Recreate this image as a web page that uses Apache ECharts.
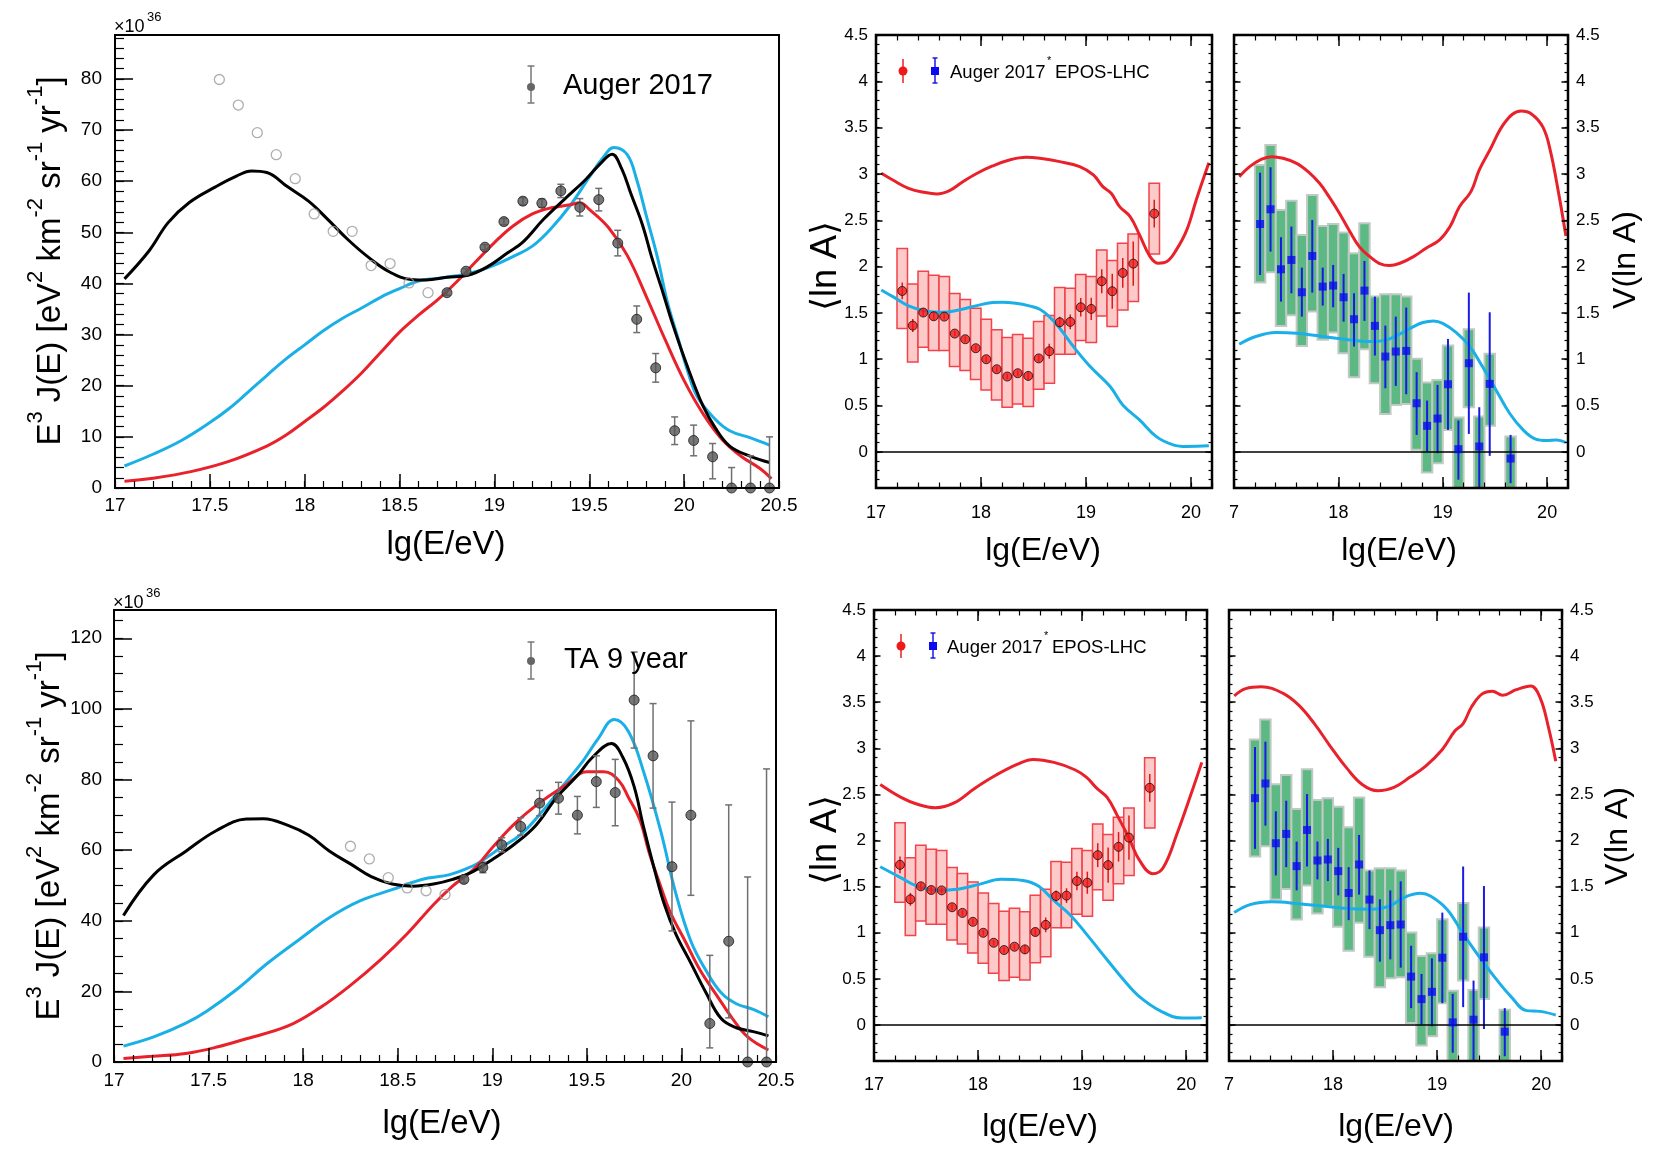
<!DOCTYPE html>
<html><head><meta charset="utf-8">
<script src="https://cdn.jsdelivr.net/npm/echarts@6/dist/echarts.min.js"></script>
<style>html,body{margin:0;padding:0;background:#fff}#c{width:1655px;height:1158px}</style>
</head><body><div id="c"></div>
<script>
// ================= DATA =================
// Auger 2017 spectrum (x 10^36)
const augerOpenX = [17.55,17.65,17.75,17.85,17.95,18.05,18.15,18.25,18.35,18.45,18.55,18.65];
const augerOpenY = [79.9,74.9,69.5,65.2,60.5,53.6,50.2,50.2,43.5,43.9,40.1,38.2];
const augerX = [18.75,18.85,18.95,19.05,19.15,19.25,19.35,19.45,19.55,19.65,19.75,19.85,19.95,20.05,20.15,20.25,20.35,20.45];
const augerY = [38.2,42.4,47.1,52.1,56.1,55.7,58.1,54.9,56.4,47.9,33.0,23.5,11.2,9.3,6.1,0,0,0];
const augerErrLo = [0.5,0.5,0.5,0.6,0.7,0.8,1.3,1.7,2.2,2.5,2.6,2.8,2.7,3.0,4.3,0,0,0];
const augerErrHi = [0.5,0.5,0.5,0.6,0.7,0.8,1.3,1.7,2.2,2.5,2.6,2.8,2.7,3.0,2.6,4.0,6.3,10.0];
const augerBlack = [[17.05,40.9],[17.18,46.4],[17.28,51.9],[17.39,55.8],[17.53,58.9],[17.64,61.0],[17.72,62.0],[17.80,61.7],[17.91,58.9],[18.02,56.1],[18.12,52.6],[18.23,48.5],[18.34,45.0],[18.45,42.2],[18.56,40.8],[18.64,40.7],[18.75,41.2],[18.86,41.6],[18.96,43.2],[19.07,46.0],[19.15,48.1],[19.26,52.6],[19.37,56.5],[19.48,60.3],[19.56,63.5],[19.62,65.3],[19.67,62.5],[19.72,57.5],[19.78,51.5],[19.83,45.0],[19.89,38.0],[19.94,32.0],[20.0,25.5],[20.05,20.5],[20.1,16.0],[20.16,12.0],[20.24,8.2],[20.35,6.2],[20.45,5.0]];
const augerCyan = [[17.05,4.3],[17.2,6.6],[17.35,9.3],[17.5,12.8],[17.6,15.5],[17.7,18.7],[17.8,22.0],[17.9,25.2],[18.0,28.0],[18.1,30.8],[18.2,33.2],[18.3,35.2],[18.4,37.3],[18.5,39.0],[18.6,40.5],[18.7,41.0],[18.8,41.5],[18.9,42.3],[19.0,43.6],[19.1,45.3],[19.2,47.3],[19.3,50.8],[19.4,55.3],[19.5,60.8],[19.57,64.5],[19.63,66.6],[19.70,65.2],[19.75,60.3],[19.80,53.3],[19.86,45.0],[19.91,36.6],[19.97,29.0],[20.02,22.7],[20.07,17.8],[20.16,13.6],[20.24,11.2],[20.35,9.8],[20.45,8.4]];
const augerRed = [[17.05,1.3],[17.2,1.9],[17.4,3.2],[17.6,5.2],[17.8,8.2],[17.9,10.3],[18.0,13.0],[18.1,15.8],[18.2,19.0],[18.3,22.5],[18.4,26.5],[18.5,30.5],[18.6,33.8],[18.7,36.8],[18.8,40.3],[18.9,44.2],[19.0,48.0],[19.1,51.3],[19.2,53.6],[19.3,54.8],[19.4,55.4],[19.45,55.8],[19.5,54.5],[19.6,51.0],[19.7,45.5],[19.8,37.5],[19.9,29.0],[20.0,21.0],[20.1,14.5],[20.2,9.5],[20.3,6.2],[20.4,3.8],[20.46,1.8]];

// TA 9 year spectrum (x 10^36)
const taOpenX = [18.25,18.35,18.45,18.55,18.65,18.75];
const taOpenY = [61.1,57.5,52.2,49.3,48.5,47.4];
const taX = [18.85,18.95,19.05,19.15,19.25,19.35,19.45,19.55,19.65,19.75,19.85,19.95,20.05,20.15,20.25,20.35,20.45];
const taY = [51.7,55.1,61.5,66.7,73.3,74.7,69.9,79.4,76.3,102.5,86.7,55.3,69.9,10.9,34.2,0,0];
const taErrLo = [1.0,1.5,2.0,2.5,3.6,4.5,5.3,7.3,9.4,13.6,14.8,18.2,22.7,6.9,21.7,0,0];
const taErrHi = [1.0,1.5,2.0,2.5,3.6,4.5,5.3,7.3,9.4,13.6,14.8,18.3,26.7,19.3,38.6,52.4,83.0];
const taBlack = [[17.05,41.5],[17.21,53.0],[17.38,59.7],[17.54,65.5],[17.70,68.8],[17.79,68.9],[17.92,67.0],[18.03,64.2],[18.14,59.7],[18.25,56.1],[18.36,52.5],[18.47,50.4],[18.58,49.8],[18.69,50.4],[18.79,51.7],[18.90,54.0],[19.01,57.7],[19.12,61.8],[19.23,67.0],[19.34,74.9],[19.45,81.1],[19.53,86.3],[19.63,90.2],[19.69,86.3],[19.75,78.0],[19.80,66.5],[19.86,54.0],[19.91,44.6],[19.97,36.3],[20.05,28.0],[20.13,19.6],[20.21,12.3],[20.29,9.7],[20.38,8.6],[20.46,7.4]];
const taCyan = [[17.05,4.5],[17.21,7.1],[17.38,11.0],[17.49,14.4],[17.65,20.6],[17.81,27.9],[17.98,34.7],[18.14,40.9],[18.30,45.6],[18.47,48.8],[18.58,50.9],[18.66,52.1],[18.77,53.0],[18.88,55.1],[18.94,56.8],[19.04,60.5],[19.15,64.4],[19.26,70.7],[19.37,78.0],[19.48,85.3],[19.56,91.6],[19.645,97.0],[19.72,93.6],[19.80,82.2],[19.89,65.5],[19.97,47.8],[20.05,34.2],[20.13,25.9],[20.21,19.6],[20.29,16.5],[20.38,14.9],[20.46,12.8]];
const taRed = [[17.05,1.0],[17.2,1.6],[17.38,2.4],[17.55,4.3],[17.70,6.6],[17.92,10.2],[18.09,15.4],[18.25,21.7],[18.41,29.0],[18.55,36.3],[18.69,44.6],[18.79,49.8],[18.90,54.5],[19.01,61.3],[19.12,67.6],[19.26,73.8],[19.39,78.5],[19.50,82.2],[19.59,82.2],[19.67,79.6],[19.72,74.9],[19.78,68.6],[19.83,59.2],[19.89,49.8],[19.94,42.5],[20.02,34.2],[20.10,25.9],[20.19,18.6],[20.27,12.3],[20.35,7.1],[20.46,3.4]];

// Composition data (Auger 2017, EPOS-LHC)
const compX = [17.25,17.35,17.45,17.55,17.65,17.75,17.85,17.95,18.05,18.15,18.25,18.35,18.45,18.55,18.65,18.75,18.85,18.95,19.05,19.15,19.25,19.35,19.45,19.65];
const lnA = [1.737,1.363,1.504,1.464,1.460,1.277,1.216,1.119,1.000,0.892,0.813,0.849,0.820,1.009,1.086,1.399,1.403,1.561,1.543,1.842,1.734,1.932,2.032,2.572];
const lnAStat = [0.09,0.07,0.04,0.04,0.03,0.03,0.03,0.03,0.03,0.03,0.03,0.03,0.05,0.04,0.08,0.06,0.08,0.10,0.12,0.13,0.19,0.16,0.24,0.15];
const lnASysHi = [2.194,1.813,1.950,1.906,1.892,1.709,1.644,1.550,1.432,1.317,1.234,1.266,1.227,1.406,1.471,1.773,1.766,1.914,1.892,2.180,2.065,2.252,2.353,2.899];
const lnASysLo = [1.331,0.971,1.129,1.094,1.094,0.921,0.878,0.781,0.669,0.561,0.482,0.518,0.489,0.676,0.741,1.054,1.054,1.201,1.180,1.468,1.353,1.532,1.622,2.137];
const varLnA = [2.460,2.619,1.971,2.072,1.723,2.115,1.784,1.795,1.669,1.432,1.741,1.360,1.029,1.083,1.090,0.525,0.281,0.360,0.730,0.029,0.957,0.058,0.734,-0.072];
const varStatHi = [3.014,3.072,2.317,2.432,1.989,2.504,1.989,2.018,1.921,1.712,2.061,1.676,1.363,1.460,1.558,0.860,0.554,0.723,1.219,0.338,1.719,0.482,1.507,0.183];
const varStatLo = [1.910,2.162,1.622,1.712,1.460,1.719,1.579,1.561,1.406,1.137,1.414,1.040,0.687,0.712,0.622,0.183,0.004,-0.014,0.237,-0.300,0.194,-0.450,-0.043,-0.338];
const varSysHi = [3.097,3.313,2.612,2.712,2.342,2.773,2.439,2.460,2.367,2.144,2.468,1.676,1.701,1.701,1.676,1.004,0.748,0.777,1.147,0.371,1.324,0.381,1.058,0.165];
const varSysLo = [1.827,1.939,1.360,1.475,1.144,1.514,1.209,1.288,1.065,0.806,1.108,0.741,0.410,0.507,0.518,0.022,-0.223,-0.122,0.237,-0.500,0.482,-0.500,0.281,-0.500];

// Model curves, composition panels
const augLnARed = [[17.05,3.007],[17.16,2.935],[17.31,2.845],[17.47,2.799],[17.58,2.784],[17.70,2.820],[17.82,2.910],[17.95,3.000],[18.11,3.086],[18.27,3.151],[18.43,3.180],[18.56,3.169],[18.75,3.133],[18.94,3.079],[19.07,2.989],[19.16,2.863],[19.24,2.791],[19.32,2.647],[19.42,2.540],[19.51,2.342],[19.61,2.108],[19.69,2.036],[19.77,2.054],[19.86,2.180],[19.96,2.396],[20.05,2.719],[20.17,3.12]];
const augLnACyan = [[17.05,1.748],[17.16,1.676],[17.31,1.576],[17.47,1.522],[17.63,1.507],[17.79,1.532],[17.95,1.576],[18.11,1.612],[18.20,1.615],[18.33,1.604],[18.46,1.576],[18.56,1.540],[18.65,1.460],[18.75,1.335],[18.88,1.137],[19.04,0.921],[19.23,0.705],[19.35,0.507],[19.51,0.345],[19.67,0.165],[19.83,0.076],[19.96,0.058],[20.17,0.065]];
const augVarRed = [[17.05,2.971],[17.15,3.079],[17.26,3.158],[17.36,3.187],[17.47,3.169],[17.60,3.115],[17.71,3.025],[17.82,2.899],[17.91,2.755],[18.01,2.576],[18.11,2.378],[18.20,2.216],[18.30,2.108],[18.39,2.036],[18.49,2.011],[18.59,2.036],[18.72,2.108],[18.84,2.198],[18.97,2.288],[19.07,2.432],[19.16,2.647],[19.27,2.809],[19.35,3.043],[19.45,3.255],[19.60,3.563],[19.75,3.679],[19.85,3.648],[19.96,3.505],[20.03,3.255],[20.11,2.793],[20.18,2.33]];
const augVarCyan = [[17.05,1.162],[17.21,1.245],[17.40,1.288],[17.60,1.281],[17.79,1.255],[17.98,1.227],[18.17,1.201],[18.33,1.191],[18.46,1.209],[18.59,1.273],[18.72,1.353],[18.81,1.396],[18.91,1.414],[19.00,1.388],[19.13,1.288],[19.26,1.137],[19.38,0.921],[19.51,0.669],[19.64,0.417],[19.77,0.237],[19.89,0.137],[19.99,0.122],[20.09,0.129],[20.18,0.101]];
const taLnARed = [[17.06,2.608],[17.26,2.468],[17.41,2.396],[17.59,2.356],[17.77,2.408],[17.97,2.568],[18.17,2.708],[18.38,2.828],[18.53,2.880],[18.73,2.848],[18.93,2.768],[19.04,2.688],[19.14,2.568],[19.24,2.468],[19.34,2.268],[19.45,2.028],[19.55,1.788],[19.68,1.64],[19.78,1.708],[19.91,2.068],[20.06,2.548],[20.15,2.848]];
const taLnACyan = [[17.06,1.716],[17.26,1.596],[17.41,1.508],[17.61,1.46],[17.82,1.476],[18.02,1.528],[18.22,1.58],[18.43,1.568],[18.58,1.508],[18.73,1.348],[18.89,1.188],[19.04,0.988],[19.24,0.708],[19.40,0.488],[19.55,0.308],[19.76,0.148],[19.96,0.076],[20.15,0.08]];
const taVarRed = [[17.05,3.568],[17.16,3.648],[17.31,3.668],[17.52,3.596],[17.67,3.468],[17.82,3.268],[17.97,3.028],[18.13,2.788],[18.28,2.608],[18.43,2.54],[18.59,2.58],[18.74,2.688],[18.89,2.808],[19.05,2.988],[19.17,3.188],[19.25,3.268],[19.33,3.448],[19.43,3.588],[19.53,3.62],[19.63,3.576],[19.76,3.636],[19.90,3.676],[19.99,3.548],[20.07,3.228],[20.14,2.86]];
const taVarCyan = [[17.05,1.22],[17.21,1.308],[17.41,1.336],[17.67,1.316],[17.92,1.288],[18.18,1.26],[18.38,1.256],[18.54,1.288],[18.69,1.388],[18.84,1.428],[18.94,1.396],[19.10,1.248],[19.25,0.988],[19.40,0.748],[19.56,0.508],[19.71,0.308],[19.86,0.156],[19.99,0.148],[20.14,0.108]];

// Tick label values
const specXTicks = [17,17.5,18,18.5,19,19.5,20,20.5];
const augerYTicks = [0,10,20,30,40,50,60,70,80];
const taYTicks = [0,20,40,60,80,100,120];
const compXTicks = [17,18,19,20];
const compYTicks = [0,0.5,1,1.5,2,2.5,3,3.5,4,4.5];

// ================= BUILD =================
const FONT = '"Liberation Sans", Arial, Helvetica, sans-serif';
const RED = '#e8212b', CYAN = '#1aafe6';
function seq(a, b, s) { const o = []; const n = Math.round((b - a) / s); for (let i = 0; i <= n; i++) o.push(+(a + i * s).toFixed(6)); return o; }
const fmt = v => String(+(+v).toFixed(2));

const grids = [], xAxes = [], yAxes = [], series = [], gfx = [];

function tickAxis(kind, gi, pos, min, max, vals, len, lw, lab) {
  const ax = {type: 'value', gridIndex: gi, position: pos, min: min, max: max,
    axisLine: {show: false, onZero: false}, splitLine: {show: false},
    axisTick: {show: true, inside: true, length: len, customValues: vals, lineStyle: {color: '#000', width: lw}},
    axisLabel: {show: false}, axisPointer: {show: false}, silent: true, z: 10};
  if (lab) ax.axisLabel = {show: true, customValues: lab.vals, margin: lab.margin, fontSize: lab.size,
    fontFamily: FONT, color: '#000', formatter: lab.fmt || fmt};
  const arr = kind === 'x' ? xAxes : yAxes;
  arr.push(ax);
  return arr.length - 1;
}

function panel(c) {
  const gi = grids.length;
  grids.push({left: c.box[0], top: c.box[1], width: c.box[2], height: c.box[3], show: true,
    borderColor: '#000', borderWidth: c.frame, backgroundColor: 'rgba(0,0,0,0)', containLabel: false, z: 9});
  const xi = tickAxis('x', gi, 'bottom', c.xr[0], c.xr[1], c.xMajor, c.xLen[0], 1.5, c.xLab);
  tickAxis('x', gi, 'bottom', c.xr[0], c.xr[1], c.xMinor, c.xLen[1], 1.2, null);
  const yi = tickAxis('y', gi, 'left', c.yr[0], c.yr[1], c.yMajor, c.yLen[0], 1.5, c.yLabL);
  tickAxis('y', gi, 'left', c.yr[0], c.yr[1], c.yMinor, c.yLen[1], 1.2, null);
  if (c.all) {
    tickAxis('x', gi, 'top', c.xr[0], c.xr[1], c.xMajor, c.xLen[0], 1.5, null);
    tickAxis('x', gi, 'top', c.xr[0], c.xr[1], c.xMinor, c.xLen[1], 1.2, null);
    tickAxis('y', gi, 'right', c.yr[0], c.yr[1], c.yMajor, c.yLen[0], 1.5, c.yLabR);
    tickAxis('y', gi, 'right', c.yr[0], c.yr[1], c.yMinor, c.yLen[1], 1.2, null);
  }
  return {xi, yi};
}

function lineS(p, data, color, extra) {
  return Object.assign({type: 'line', xAxisIndex: p.xi, yAxisIndex: p.yi, data: data, showSymbol: false, symbol: 'none',
    smooth: 0.4, clip: true, silent: true, z: 3, lineStyle: {color: color, width: 3}}, extra || {});
}
function boxS(p, xs, lo, hi, fill, stroke, lw, half) {
  return {type: 'custom', xAxisIndex: p.xi, yAxisIndex: p.yi, clip: true, silent: true, z: 2,
    data: xs.map((x, i) => [x, lo[i], hi[i]]),
    renderItem: (params, api) => {
      const a = api.coord([api.value(0) - half, api.value(2)]);
      const b = api.coord([api.value(0) + half, api.value(1)]);
      return {type: 'rect', shape: {x: a[0], y: a[1], width: b[0] - a[0], height: b[1] - a[1]},
        style: {fill: fill, stroke: stroke, lineWidth: lw}};
    }};
}
function errS(p, xs, ys, lo, hi, color, lw, cap) {
  return {type: 'custom', xAxisIndex: p.xi, yAxisIndex: p.yi, clip: true, silent: true, z: 4,
    data: xs.map((x, i) => [x, lo[i], hi[i], ys[i]]),
    renderItem: (params, api) => {
      const x = api.value(0);
      const a = api.coord([x, api.value(1)]);
      const b = api.coord([x, api.value(2)]);
      const ch = [{type: 'line', shape: {x1: a[0], y1: a[1], x2: b[0], y2: b[1]}, style: {stroke: color, lineWidth: lw}}];
      if (cap) {
        if (api.value(2) > api.value(3)) ch.push({type: 'line', shape: {x1: b[0] - cap, y1: b[1], x2: b[0] + cap, y2: b[1]}, style: {stroke: color, lineWidth: lw}});
        if (api.value(1) < api.value(3)) ch.push({type: 'line', shape: {x1: a[0] - cap, y1: a[1], x2: a[0] + cap, y2: a[1]}, style: {stroke: color, lineWidth: lw}});
      }
      return {type: 'group', children: ch};
    }};
}
function ptS(p, xs, ys, symbol, size, style) {
  return {type: 'scatter', xAxisIndex: p.xi, yAxisIndex: p.yi, data: xs.map((x, i) => [x, ys[i]]),
    symbol: symbol, symbolSize: size, itemStyle: style, clip: false, silent: true, z: 6};
}
function txt(x, y, text, size, opts, align) {
  gfx.push(Object.assign({type: 'text', x: x, y: y, silent: true, z: 20,
    style: {text: text, fontSize: size, fontFamily: FONT, fill: '#000', align: align || 'center', verticalAlign: 'middle'}}, opts || {}));
}

// ---------- Spectrum panels ----------
const specCommon = {frame: 2, xr: [17, 20.5], xMajor: seq(17, 20.5, 0.5), xMinor: seq(17, 20.5, 0.1), xLen: [14, 7], yLen: [18, 9], all: false};
const pA = panel(Object.assign({}, specCommon, {box: [115, 35, 664, 453], yr: [0, 88.6],
  yMajor: augerYTicks, yMinor: seq(0, 88, 2),
  xLab: {vals: specXTicks, margin: 8, size: 19}, yLabL: {vals: augerYTicks, margin: 13, size: 19}}));
const pD = panel(Object.assign({}, specCommon, {box: [114, 610, 662, 452], yr: [0, 128],
  yMajor: taYTicks, yMinor: seq(0, 125, 5),
  xLab: {vals: specXTicks, margin: 9, size: 19}, yLabL: {vals: taYTicks, margin: 12, size: 19}}));

function specSeries(p, black, cyan, red, ox, oy, X, Y, lo, hi) {
  series.push(lineS(p, cyan, CYAN), lineS(p, red, RED), lineS(p, black, '#000'));
  series.push(errS(p, X, Y, Y.map((y, i) => y - lo[i]), Y.map((y, i) => y + hi[i]), '#707070', 1.5, 3.5));
  series.push(ptS(p, ox, oy, 'circle', 10, {color: 'rgba(255,255,255,0)', borderColor: '#9a9a9a', borderWidth: 1.3}));
  series.push(ptS(p, X, Y, 'circle', 10, {color: '#555555', borderColor: '#1a1a1a', borderWidth: 1}));
}
specSeries(pA, augerBlack, augerCyan, augerRed, augerOpenX, augerOpenY, augerX, augerY, augerErrLo, augerErrHi);
specSeries(pD, taBlack, taCyan, taRed, taOpenX, taOpenY, taX, taY, taErrLo, taErrHi);

// ---------- Composition panels ----------
const compCommon = {frame: 2.5, xr: [17, 20.2], yr: [-0.39, 4.5], xMajor: compXTicks, xMinor: seq(17, 20.2, 0.2),
  yMajor: compYTicks, yMinor: seq(-0.3, 4.5, 0.1), xLen: [11, 5.5], yLen: [6.5, 3.5], all: true};
const xLabB = m => ({vals: compXTicks, margin: m, size: 18});
const xLabC = m => ({vals: compXTicks, margin: m, size: 18, fmt: v => (+v === 17 ? '7' : fmt(v))});
const pB = panel(Object.assign({}, compCommon, {box: [876, 35, 336, 453], xLab: xLabB(16), yLabL: {vals: compYTicks, margin: 8, size: 17}}));
const pC = panel(Object.assign({}, compCommon, {box: [1234, 35, 334, 453], xLab: xLabC(16), yLabR: {vals: compYTicks, margin: 8, size: 17}}));
const pE = panel(Object.assign({}, compCommon, {box: [874, 610, 333, 451], xLab: xLabB(15), yLabL: {vals: compYTicks, margin: 8, size: 17}}));
const pF = panel(Object.assign({}, compCommon, {box: [1229, 610, 333, 451], xLab: xLabC(15), yLabR: {vals: compYTicks, margin: 8, size: 17}}));

const zeroLine = {markLine: {silent: true, symbol: 'none', animation: false, label: {show: false},
  lineStyle: {color: '#000', width: 1.5, type: 'solid'}, data: [{yAxis: 0}]}};

function lnASeries(p, red, cyan) {
  series.push(boxS(p, compX, lnASysLo, lnASysHi, '#fdcaca', '#f2424a', 1.5, 0.05));
  series.push(lineS(p, red, RED, zeroLine), lineS(p, cyan, CYAN));
  series.push(errS(p, compX, lnA, lnA.map((v, i) => v - lnAStat[i]), lnA.map((v, i) => v + lnAStat[i]), '#e01818', 1.5, 0));
  series.push(ptS(p, compX, lnA, 'circle', 9, {color: '#ee1a1a', borderColor: '#111', borderWidth: 1}));
}
function varSeries(p, red, cyan) {
  series.push(boxS(p, compX, varSysLo, varSysHi, '#5cb983', '#c0c9c3', 2, 0.05));
  series.push(lineS(p, red, RED, zeroLine), lineS(p, cyan, CYAN));
  series.push(errS(p, compX, varLnA, varStatLo, varStatHi, '#1a1ae6', 2, 0));
  series.push(ptS(p, compX, varLnA, 'rect', 8, {color: '#0a0af0'}));
}
lnASeries(pB, augLnARed, augLnACyan);
varSeries(pC, augVarRed, augVarCyan);
lnASeries(pE, taLnARed, taLnACyan);
varSeries(pF, taVarRed, taVarCyan);

// ---------- Texts ----------
const ytitleRich = {m: {fontSize: 33, lineHeight: 42, verticalAlign: 'bottom', fontFamily: FONT},
  s: {fontSize: 22, lineHeight: 22, verticalAlign: 'top', fontFamily: FONT}};
const ytitle = '{m|E}{s|3}{m| J(E) [eV}{s|2}{m| km}{s|-2}{m| sr}{s|-1}{m| yr}{s|-1}{m|]}';
txt(46, 261, ytitle, 33, {rotation: Math.PI / 2, style: {text: ytitle, rich: ytitleRich, align: 'center', verticalAlign: 'middle', fill: '#000'}});
txt(45, 836, ytitle, 33, {rotation: Math.PI / 2, style: {text: ytitle, rich: ytitleRich, align: 'center', verticalAlign: 'middle', fill: '#000'}});

// ×10^36 multipliers
txt(114, 27, '×10', 18, null, 'left');
txt(147, 17, '36', 13, null, 'left');
txt(113, 603, '×10', 18, null, 'left');
txt(146, 593, '36', 13, null, 'left');

txt(446, 545, 'lg(E/eV)', 33);
txt(442, 1124, 'lg(E/eV)', 33);
txt(1043, 551, 'lg(E/eV)', 32);
txt(1399, 551, 'lg(E/eV)', 32);
txt(1040, 1127, 'lg(E/eV)', 32);
txt(1396, 1127, 'lg(E/eV)', 32);

const lnAFont = '"Liberation Sans", "DejaVu Sans", sans-serif';
gfx.push({type: 'text', x: 826, y: 266, rotation: Math.PI / 2, silent: true, z: 20, style: {text: '⟨ln A⟩', fontSize: 36, fontFamily: lnAFont, fill: '#000', align: 'center', verticalAlign: 'middle'}});
gfx.push({type: 'text', x: 826, y: 840, rotation: Math.PI / 2, silent: true, z: 20, style: {text: '⟨ln A⟩', fontSize: 36, fontFamily: lnAFont, fill: '#000', align: 'center', verticalAlign: 'middle'}});
txt(1626, 260, 'V(ln A)', 32, {rotation: Math.PI / 2});
txt(1618, 836, 'V(ln A)', 32, {rotation: Math.PI / 2});

// ---------- Legends ----------
function specLegend(x, y, y1, y2, label, tx) {
  gfx.push({type: 'line', silent: true, z: 20, shape: {x1: x, y1: y1, x2: x, y2: y2}, style: {stroke: '#777', lineWidth: 1.5}});
  gfx.push({type: 'line', silent: true, z: 20, shape: {x1: x - 3.5, y1: y1, x2: x + 3.5, y2: y1}, style: {stroke: '#777', lineWidth: 1.5}});
  gfx.push({type: 'line', silent: true, z: 20, shape: {x1: x - 3.5, y1: y2, x2: x + 3.5, y2: y2}, style: {stroke: '#777', lineWidth: 1.5}});
  gfx.push({type: 'circle', silent: true, z: 21, shape: {cx: x, cy: y, r: 4}, style: {fill: '#666'}});
  txt(tx, y - 1, label, 29, null, 'left');
}
specLegend(531, 87, 66, 103, 'Auger 2017', 563);
specLegend(531, 661, 642, 679, 'TA 9 year', 564);

function compLegend(xr, xb, y, tx, ty) {
  gfx.push({type: 'line', silent: true, z: 20, shape: {x1: xr, y1: y - 12, x2: xr, y2: y + 12}, style: {stroke: '#e82020', lineWidth: 1.5}});
  gfx.push({type: 'circle', silent: true, z: 21, shape: {cx: xr, cy: y, r: 4.5}, style: {fill: '#ee1a1a'}});
  gfx.push({type: 'line', silent: true, z: 20, shape: {x1: xb, y1: y - 13, x2: xb, y2: y + 12}, style: {stroke: '#1a1ae6', lineWidth: 1.5}});
  gfx.push({type: 'line', silent: true, z: 20, shape: {x1: xb - 2.5, y1: y - 13, x2: xb + 2.5, y2: y - 13}, style: {stroke: '#1a1ae6', lineWidth: 1.5}});
  gfx.push({type: 'line', silent: true, z: 20, shape: {x1: xb - 2.5, y1: y + 12, x2: xb + 2.5, y2: y + 12}, style: {stroke: '#1a1ae6', lineWidth: 1.5}});
  gfx.push({type: 'rect', silent: true, z: 21, shape: {x: xb - 4, y: y - 4, width: 8, height: 8}, style: {fill: '#0a0af0'}});
  txt(tx, ty, 'Auger 2017', 18.5, null, 'left');
  txt(tx + 97, ty - 12, '*', 11, null, 'left');
  txt(tx + 105, ty, 'EPOS-LHC', 18.5, null, 'left');
}
compLegend(903, 935, 71, 950, 73);
compLegend(901, 933, 646, 947, 648);

const chart = echarts.init(document.getElementById('c'), null, {renderer: 'canvas'});
chart.setOption({
  animation: false,
  backgroundColor: '#fff',
  textStyle: {fontFamily: FONT},
  grid: grids, xAxis: xAxes, yAxis: yAxes, series: series,
  graphic: {elements: gfx}
});
</script></body></html>
